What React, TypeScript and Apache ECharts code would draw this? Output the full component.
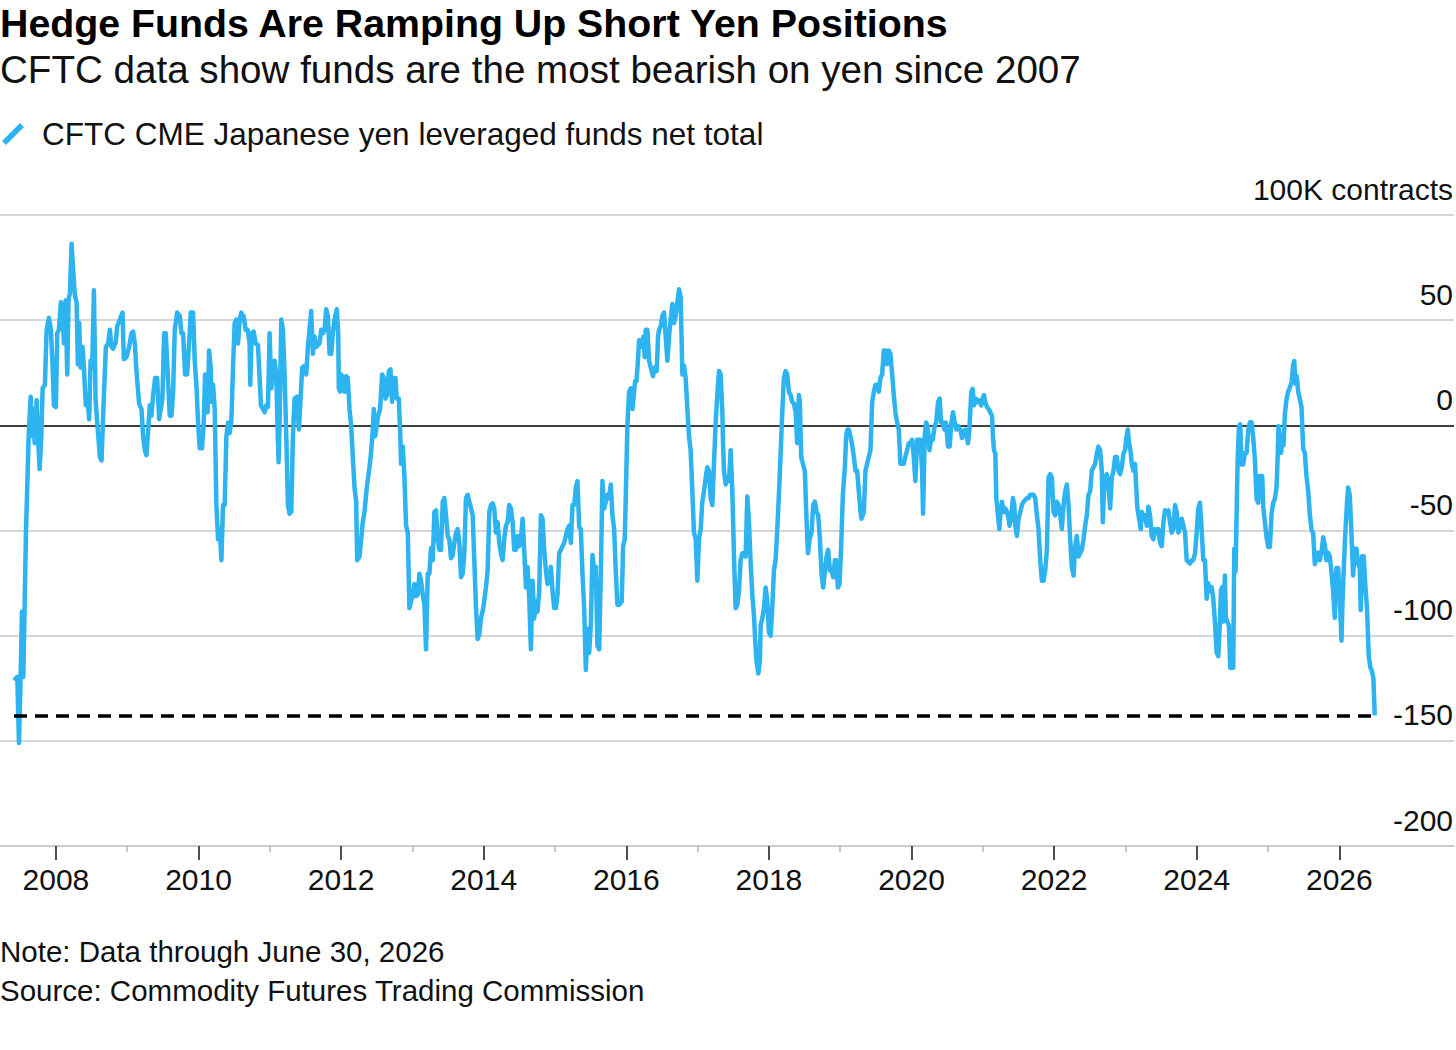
import React, { useEffect, useRef } from 'react';
import * as echarts from 'echarts';

const FONT = '"Liberation Sans", Arial, Helvetica, sans-serif';
const LINE_BLUE = '#2db3ef';

const TITLE = 'Hedge Funds Are Ramping Up Short Yen Positions';
const SUBTITLE = 'CFTC data show funds are the most bearish on yen since 2007';
const SERIES_NAME = 'CFTC CME Japanese yen leveraged funds net total';
const NOTE = 'Note: Data through June 30, 2026';
const SOURCE = 'Source: Commodity Futures Trading Commission';
const UNIT = 'K contracts';

// Axis ranges
const Y_MIN = -200;
const Y_MAX = 100;
const Y_STEP = 50;
const X_MIN = 2007.216;
const X_MAX = 2027.608;
const LABELLED_YEARS = [2008, 2010, 2012, 2014, 2016, 2018, 2020, 2022, 2024, 2026];
const MINOR_YEARS = [2009, 2011, 2013, 2015, 2017, 2019, 2021, 2023, 2025];

// Net positions, thousands of contracts, [decimal year, value]
const net2007to2010: [number, number][] = [
  [2007.412, -121.2], [2007.459, -119.6], [2007.482, -151.0], [2007.505, -119.6], [2007.524, -88.6],
  [2007.543, -119.6], [2007.58, -51.0], [2007.618, -5.2], [2007.646, 13.6], [2007.669, -5.2],
  [2007.683, 7.8], [2007.702, -8.5], [2007.73, 11.9], [2007.748, -5.2], [2007.772, -20.8],
  [2007.795, -5.2], [2007.814, 17.6], [2007.846, 19.3], [2007.87, 45.4], [2007.902, 51.1],
  [2007.93, 45.4], [2007.954, 27.5], [2007.972, 9.5], [2008.0, 8.7], [2008.019, 43.8],
  [2008.042, 45.4], [2008.07, 58.5], [2008.094, 52.0], [2008.112, 38.9], [2008.136, 59.3],
  [2008.159, 24.2], [2008.178, 60.1], [2008.196, 62.6], [2008.22, 86.3], [2008.243, 73.2],
  [2008.266, 61.8], [2008.29, 58.5], [2008.308, 29.1], [2008.327, 48.7], [2008.346, 27.5],
  [2008.374, 37.3], [2008.392, 27.5], [2008.42, 9.5], [2008.439, 14.4], [2008.467, 2.9],
  [2008.486, 30.7], [2008.509, 27.5], [2008.533, 64.2], [2008.556, 12.7], [2008.579, 1.3],
  [2008.617, -15.0], [2008.64, -16.7], [2008.673, 14.4], [2008.701, 37.3], [2008.733, 38.9],
  [2008.757, 45.4], [2008.78, 37.3], [2008.803, 36.4], [2008.841, 39.7], [2008.859, 47.1],
  [2008.897, 50.3], [2008.934, 53.6], [2008.953, 31.5], [2008.99, 32.4], [2009.027, 37.3],
  [2009.06, 43.8], [2009.083, 44.6], [2009.107, 38.9], [2009.13, 25.8], [2009.167, 10.3],
  [2009.2, 7.8], [2009.223, -5.2], [2009.247, -11.8], [2009.27, -14.2], [2009.298, -0.3],
  [2009.317, 9.5], [2009.34, 4.6], [2009.364, 14.4], [2009.392, 22.5], [2009.42, 22.5],
  [2009.448, 2.9], [2009.471, 7.8], [2009.494, 12.7], [2009.518, 43.8], [2009.541, 43.8],
  [2009.574, 20.9], [2009.597, 4.6], [2009.62, 4.6], [2009.644, 16.0], [2009.667, 45.4],
  [2009.7, 53.6], [2009.737, 52.0], [2009.76, 43.8], [2009.784, 43.8], [2009.812, 24.2],
  [2009.84, 24.2], [2009.868, 38.9], [2009.891, 53.6], [2009.924, 53.6], [2009.947, 30.7],
  [2009.97, 19.3], [2009.994, 1.3], [2010.017, -10.9], [2010.05, -10.9], [2010.073, 1.3],
  [2010.092, 24.2], [2010.111, 19.3], [2010.129, 6.2], [2010.148, 35.6], [2010.171, 27.5],
  [2010.185, 11.1], [2010.204, 19.3], [2010.227, 7.8], [2010.251, -37.9], [2010.274, -54.2],
  [2010.297, -49.3], [2010.321, -64.1], [2010.344, -37.9], [2010.367, -37.9], [2010.391, -5.2],
  [2010.414, 1.3], [2010.437, -3.6], [2010.461, 2.1], [2010.484, 27.5], [2010.507, 48.7],
  [2010.531, 50.3], [2010.554, 38.9], [2010.577, 50.3], [2010.601, 53.6], [2010.624, 50.3],
];

const net2010to2013: [number, number][] = [
  [2010.633, 52.0], [2010.661, 45.4], [2010.689, 45.4], [2010.717, 38.9], [2010.726, 19.3],
  [2010.745, 43.8], [2010.773, 44.6], [2010.801, 38.9], [2010.834, 38.1], [2010.857, 22.5],
  [2010.876, 9.5], [2010.904, 7.8], [2010.927, 6.2], [2010.95, 9.5], [2010.974, 8.7],
  [2010.997, 43.8], [2011.021, 17.6], [2011.044, 27.5], [2011.067, 30.7], [2011.091, 24.2],
  [2011.105, 2.9], [2011.123, -17.5], [2011.137, 1.3], [2011.161, 50.3], [2011.184, 45.4],
  [2011.207, 24.2], [2011.231, -5.2], [2011.254, -37.9], [2011.277, -42.0], [2011.301, -41.2],
  [2011.324, -5.2], [2011.347, 12.7], [2011.38, 13.6], [2011.408, -2.0], [2011.431, 12.7],
  [2011.455, 27.5], [2011.487, 28.3], [2011.511, 24.2], [2011.534, 37.3], [2011.557, 45.4],
  [2011.581, 54.4], [2011.604, 34.0], [2011.627, 42.2], [2011.651, 37.3], [2011.697, 38.9],
  [2011.721, 45.4], [2011.744, 43.8], [2011.768, 45.4], [2011.791, 55.2], [2011.814, 52.0],
  [2011.838, 34.0], [2011.861, 34.0], [2011.884, 43.8], [2011.908, 50.3], [2011.94, 55.2],
  [2011.959, 43.8], [2011.968, 17.6], [2011.987, 16.0], [2012.001, 24.2], [2012.024, 22.5],
  [2012.048, 16.0], [2012.071, 23.4], [2012.094, 22.5], [2012.118, 7.8], [2012.141, -0.3],
  [2012.164, -15.0], [2012.188, -29.7], [2012.211, -36.3], [2012.225, -64.1], [2012.258, -62.4],
  [2012.281, -54.2], [2012.304, -46.1], [2012.328, -41.2], [2012.36, -29.7], [2012.398, -19.9],
  [2012.421, -12.6], [2012.444, -2.0], [2012.458, 7.8], [2012.477, -5.2], [2012.5, -0.3],
  [2012.519, 4.6], [2012.547, 7.8], [2012.575, 24.2], [2012.599, 22.5], [2012.622, 12.7],
  [2012.645, 14.4], [2012.669, 25.8], [2012.692, 26.6], [2012.715, 11.1], [2012.734, 22.5],
  [2012.762, 22.5], [2012.781, 12.7], [2012.809, 12.7], [2012.827, -2.0], [2012.841, -18.3],
  [2012.865, -10.1], [2012.888, -24.8], [2012.911, -47.7], [2012.935, -51.0], [2012.958, -86.9],
  [2012.981, -83.7], [2013.005, -80.4], [2013.028, -75.5], [2013.051, -81.2], [2013.075, -80.4],
  [2013.098, -70.6], [2013.121, -73.9], [2013.145, -80.4], [2013.168, -85.3], [2013.191, -106.5],
  [2013.215, -70.6], [2013.238, -70.6], [2013.261, -58.3], [2013.285, -64.1], [2013.308, -41.2],
  [2013.331, -40.4], [2013.355, -54.2], [2013.378, -59.2], [2013.401, -59.2], [2013.425, -36.3],
  [2013.448, -34.6], [2013.471, -42.8], [2013.495, -52.6], [2013.518, -54.2], [2013.541, -63.2],
  [2013.565, -61.6], [2013.588, -55.9], [2013.611, -51.0], [2013.635, -49.3], [2013.658, -55.9],
  [2013.681, -72.2], [2013.705, -70.6], [2013.728, -60.8], [2013.751, -34.6], [2013.775, -33.0],
  [2013.798, -36.3], [2013.822, -39.5], [2013.845, -42.8], [2013.868, -64.1], [2013.892, -86.9],
  [2013.915, -101.6], [2013.938, -99.2],
];

const net2014to2017: [number, number][] = [
  [2013.961, -91.8], [2013.994, -86.9], [2014.031, -77.1], [2014.055, -69.0], [2014.078, -41.2],
  [2014.101, -37.9], [2014.125, -37.1], [2014.148, -39.5], [2014.171, -51.0], [2014.195, -46.1],
  [2014.218, -55.9], [2014.241, -60.8], [2014.265, -64.1], [2014.288, -54.2], [2014.311, -47.7],
  [2014.335, -46.1], [2014.358, -37.9], [2014.382, -39.5], [2014.405, -46.1], [2014.428, -59.2],
  [2014.452, -59.2], [2014.475, -52.6], [2014.498, -57.5], [2014.522, -54.2], [2014.545, -44.4],
  [2014.568, -59.2], [2014.592, -77.1], [2014.615, -67.3], [2014.638, -82.0], [2014.662, -106.5],
  [2014.685, -73.9], [2014.708, -91.8], [2014.732, -83.7], [2014.755, -88.6], [2014.778, -78.8],
  [2014.802, -42.8], [2014.825, -44.4], [2014.848, -59.2], [2014.872, -69.0], [2014.895, -75.5],
  [2014.918, -73.9], [2014.942, -67.3], [2014.965, -78.8], [2014.988, -86.9], [2015.012, -86.9],
  [2015.035, -80.4], [2015.058, -60.8], [2015.082, -59.2], [2015.105, -57.5], [2015.128, -55.9],
  [2015.152, -52.6], [2015.175, -49.3], [2015.199, -47.7], [2015.222, -55.9], [2015.245, -37.9],
  [2015.269, -37.9], [2015.292, -29.7], [2015.315, -26.5], [2015.339, -48.5], [2015.362, -49.3],
  [2015.385, -70.6], [2015.409, -86.9], [2015.432, -116.3], [2015.455, -96.7], [2015.479, -108.2],
  [2015.502, -95.1], [2015.525, -61.6], [2015.549, -69.0], [2015.572, -67.3], [2015.595, -104.9],
  [2015.619, -106.5], [2015.642, -70.6], [2015.665, -26.5], [2015.689, -39.5], [2015.712, -36.3],
  [2015.735, -33.0], [2015.759, -34.6], [2015.782, -28.1], [2015.805, -42.8], [2015.829, -49.3],
  [2015.852, -69.0], [2015.875, -85.3], [2015.899, -85.3], [2015.936, -83.7], [2015.955, -57.5],
  [2015.978, -54.2], [2015.992, -34.6], [2016.015, -0.3], [2016.039, 16.0], [2016.062, 17.6],
  [2016.086, 7.8], [2016.109, 16.0], [2016.123, 20.9], [2016.142, 20.9], [2016.16, 29.1],
  [2016.179, 40.5], [2016.202, 40.5], [2016.226, 37.3], [2016.24, 42.2], [2016.258, 32.4],
  [2016.272, 45.4], [2016.296, 45.4], [2016.319, 30.7], [2016.342, 27.5], [2016.375, 23.4],
  [2016.398, 27.5], [2016.426, 25.8], [2016.445, 42.2], [2016.459, 45.4], [2016.482, 47.1],
  [2016.506, 52.0], [2016.529, 53.6], [2016.552, 42.2], [2016.576, 30.7], [2016.599, 42.2],
  [2016.622, 50.3], [2016.646, 57.7], [2016.669, 48.7], [2016.692, 52.0], [2016.716, 58.5],
  [2016.739, 64.7], [2016.762, 60.9], [2016.786, 24.2], [2016.809, 28.3], [2016.832, 22.5],
  [2016.856, 7.8], [2016.879, -5.2], [2016.902, -11.8], [2016.926, -31.4], [2016.949, -51.0],
  [2016.973, -54.2], [2016.996, -73.9], [2017.019, -54.2], [2017.043, -49.3], [2017.066, -36.3],
  [2017.089, -31.4], [2017.113, -24.8], [2017.136, -19.9], [2017.159, -21.6], [2017.183, -34.6],
  [2017.206, -37.9], [2017.229, -18.3], [2017.253, 1.3], [2017.276, 14.4], [2017.3, 25.8],
];

const net2017to2020: [number, number][] = [
  [2017.323, 24.2], [2017.347, 6.2], [2017.356, -8.5], [2017.37, -21.6], [2017.393, -28.1],
  [2017.417, -24.8], [2017.44, -26.5], [2017.463, -11.8], [2017.487, -31.4], [2017.51, -62.4],
  [2017.533, -86.9], [2017.557, -85.3], [2017.58, -78.8], [2017.603, -64.1], [2017.627, -60.8],
  [2017.65, -60.8], [2017.673, -62.4], [2017.697, -33.8], [2017.72, -46.1], [2017.744, -65.7],
  [2017.767, -80.4], [2017.79, -90.2], [2017.804, -100.0], [2017.823, -111.4], [2017.851, -118.0],
  [2017.874, -111.4], [2017.884, -95.1], [2017.907, -91.8], [2017.93, -86.9], [2017.954, -77.1],
  [2017.977, -83.7], [2018.0, -98.4], [2018.024, -100.0], [2018.047, -86.9], [2018.07, -69.0],
  [2018.094, -64.1], [2018.117, -49.3], [2018.14, -33.0], [2018.164, -13.4], [2018.187, 6.2],
  [2018.21, 22.5], [2018.234, 25.8], [2018.257, 24.2], [2018.28, 16.0], [2018.304, 14.4],
  [2018.327, 11.1], [2018.35, 10.3], [2018.374, 6.2], [2018.397, -8.5], [2018.42, 14.4],
  [2018.434, 11.1], [2018.453, -15.0], [2018.476, -18.3], [2018.504, -21.6], [2018.523, -41.2],
  [2018.547, -60.8], [2018.57, -54.2], [2018.598, -51.0], [2018.621, -37.9], [2018.645, -36.3],
  [2018.668, -41.2], [2018.691, -42.8], [2018.715, -54.2], [2018.738, -70.6], [2018.761, -77.1],
  [2018.785, -69.0], [2018.808, -62.4], [2018.831, -59.2], [2018.855, -69.0], [2018.878, -69.0],
  [2018.901, -72.2], [2018.925, -64.1], [2018.943, -64.1], [2018.967, -77.1], [2018.99, -75.5],
  [2019.013, -57.5], [2019.037, -33.0], [2019.065, -19.9], [2019.083, -5.2], [2019.102, -2.0],
  [2019.121, -2.0], [2019.144, -5.2], [2019.167, -9.3], [2019.191, -15.0], [2019.214, -21.6],
  [2019.237, -21.6], [2019.261, -31.4], [2019.284, -41.2], [2019.298, -44.4], [2019.331, -41.2],
  [2019.354, -21.6], [2019.377, -18.3], [2019.401, -15.0], [2019.424, -11.8], [2019.448, 11.1],
  [2019.471, 16.0], [2019.494, 19.3], [2019.518, 19.3], [2019.541, 16.0], [2019.564, 22.5],
  [2019.588, 24.2], [2019.611, 35.6], [2019.634, 35.6], [2019.658, 29.1], [2019.681, 35.6],
  [2019.704, 34.0], [2019.728, 24.2], [2019.751, 14.4], [2019.774, 6.2], [2019.798, 1.3],
  [2019.821, -2.0], [2019.844, -18.3], [2019.868, -18.3], [2019.891, -18.3], [2019.914, -15.0],
  [2019.938, -11.8], [2019.961, -8.5], [2019.984, -8.5], [2020.008, -6.9], [2020.031, -15.0],
  [2020.054, -26.5], [2020.078, -6.9], [2020.101, -6.9], [2020.124, -6.9], [2020.148, -21.6],
  [2020.162, -42.0], [2020.185, -5.2], [2020.204, 1.3], [2020.227, -0.3], [2020.251, -11.8],
  [2020.279, -5.2], [2020.297, -6.9], [2020.325, -0.3], [2020.344, 1.3], [2020.372, 11.1],
  [2020.395, 12.7], [2020.414, 1.3], [2020.437, 1.3], [2020.461, -2.0], [2020.484, 1.3],
  [2020.512, -10.1], [2020.535, -10.1], [2020.559, 1.3], [2020.582, 6.2], [2020.605, 1.3],
  [2020.629, -2.0], [2020.652, -0.3],
];

const net2020to2024: [number, number][] = [
  [2020.684, -2.0], [2020.708, -6.0], [2020.731, -3.6], [2020.754, -2.0], [2020.778, -6.0],
  [2020.792, -8.5], [2020.81, -2.8], [2020.838, 16.0], [2020.857, 17.3], [2020.876, 9.5],
  [2020.904, 12.7], [2020.932, 11.1], [2020.95, 11.9], [2020.978, 9.5], [2020.997, 12.7],
  [2021.016, 14.4], [2021.034, 11.1], [2021.058, 8.7], [2021.081, 7.8], [2021.104, 6.2],
  [2021.128, 4.6], [2021.142, -5.2], [2021.156, -11.8], [2021.175, -13.4], [2021.189, -34.6],
  [2021.212, -42.8], [2021.231, -49.3], [2021.249, -41.2], [2021.268, -36.3], [2021.291, -41.2],
  [2021.315, -39.5], [2021.338, -41.2], [2021.361, -44.4], [2021.375, -47.7], [2021.394, -44.4],
  [2021.422, -34.6], [2021.441, -37.9], [2021.455, -47.7], [2021.478, -52.6], [2021.501, -44.4],
  [2021.525, -41.2], [2021.548, -37.9], [2021.571, -36.3], [2021.595, -35.5], [2021.618, -34.6],
  [2021.641, -34.6], [2021.665, -33.0], [2021.688, -33.0], [2021.711, -33.0], [2021.735, -34.6],
  [2021.758, -42.8], [2021.781, -49.3], [2021.805, -64.1], [2021.828, -73.9], [2021.852, -73.9],
  [2021.875, -69.0], [2021.898, -59.2], [2021.922, -24.8], [2021.945, -23.2], [2021.968, -24.8],
  [2021.992, -41.2], [2022.015, -42.8], [2022.038, -36.3], [2022.062, -37.9], [2022.085, -42.8],
  [2022.108, -49.3], [2022.132, -37.9], [2022.155, -31.4], [2022.178, -28.1], [2022.202, -37.9],
  [2022.225, -54.2], [2022.248, -67.3], [2022.272, -71.4], [2022.295, -57.5], [2022.318, -52.6],
  [2022.342, -62.4], [2022.365, -60.8], [2022.388, -59.2], [2022.412, -54.2], [2022.435, -47.7],
  [2022.458, -42.8], [2022.482, -33.0], [2022.505, -31.4], [2022.528, -21.6], [2022.552, -19.9],
  [2022.575, -18.3], [2022.598, -13.4], [2022.622, -10.1], [2022.645, -11.8], [2022.668, -21.6],
  [2022.683, -46.1], [2022.697, -33.0], [2022.715, -24.8], [2022.739, -23.2], [2022.762, -28.1],
  [2022.785, -39.5], [2022.809, -24.8], [2022.832, -21.6], [2022.855, -15.0], [2022.879, -15.0],
  [2022.902, -21.6], [2022.925, -23.2], [2022.949, -19.9], [2022.972, -13.4], [2022.995, -11.8],
  [2023.009, -6.9], [2023.033, -2.0], [2023.051, -8.5], [2023.07, -11.8], [2023.089, -18.3],
  [2023.112, -21.6], [2023.135, -18.3], [2023.149, -28.1], [2023.168, -39.5], [2023.191, -44.4],
  [2023.215, -49.3], [2023.229, -41.2], [2023.252, -44.4], [2023.275, -42.8], [2023.299, -47.7],
  [2023.322, -38.7], [2023.345, -42.8], [2023.369, -52.6], [2023.392, -54.2], [2023.415, -49.3],
  [2023.439, -51.0], [2023.462, -49.3], [2023.485, -55.9], [2023.509, -57.5], [2023.532, -46.1],
  [2023.555, -40.4], [2023.579, -41.2], [2023.602, -40.4], [2023.625, -46.1], [2023.649, -51.0],
  [2023.672, -49.3], [2023.696, -37.9], [2023.719, -41.2], [2023.742, -51.0], [2023.766, -47.7],
  [2023.789, -44.4], [2023.812, -47.7], [2023.836, -51.0], [2023.859, -64.1], [2023.882, -64.9],
  [2023.906, -65.7], [2023.929, -64.1], [2023.952, -64.1], [2023.976, -60.8], [2023.999, -51.0],
  [2024.022, -39.5],
];

const net2024to2026: [number, number][] = [
  [2024.045, -36.8], [2024.069, -49.6], [2024.092, -64.1], [2024.115, -64.1], [2024.139, -82.4],
  [2024.162, -75.1], [2024.185, -78.7], [2024.209, -76.9], [2024.232, -82.4], [2024.255, -93.3],
  [2024.279, -107.9], [2024.302, -109.7], [2024.325, -93.3], [2024.339, -78.7], [2024.358, -76.9],
  [2024.372, -93.3], [2024.395, -71.4], [2024.409, -91.5], [2024.428, -93.3], [2024.451, -95.1],
  [2024.47, -115.2], [2024.489, -115.2], [2024.512, -115.2], [2024.526, -58.7], [2024.545, -69.6],
  [2024.559, -42.3], [2024.573, -16.8], [2024.592, -0.4], [2024.61, 0.5], [2024.629, -18.6],
  [2024.652, -18.6], [2024.676, -13.1], [2024.699, -13.1], [2024.722, -2.2], [2024.746, 1.5],
  [2024.769, 1.5], [2024.792, -5.8], [2024.816, -16.8], [2024.839, -35.0], [2024.862, -36.8],
  [2024.876, -24.1], [2024.895, -24.1], [2024.918, -24.1], [2024.932, -38.6], [2024.956, -45.9],
  [2024.979, -53.2], [2025.002, -57.8], [2025.026, -57.8], [2025.049, -42.3], [2025.072, -36.8],
  [2025.096, -35.0], [2025.119, -29.5], [2025.133, -16.8], [2025.147, -0.4], [2025.166, -5.8],
  [2025.184, -13.1], [2025.198, -5.8], [2025.217, -9.5], [2025.236, 5.1], [2025.259, 12.4],
  [2025.282, 16.0], [2025.306, 17.9], [2025.329, 20.6], [2025.353, 28.8], [2025.367, 30.6],
  [2025.385, 19.7], [2025.404, 23.3], [2025.423, 16.0], [2025.446, 12.4], [2025.469, 8.7],
  [2025.493, -11.3], [2025.516, -13.1], [2025.539, -24.1], [2025.563, -31.3], [2025.586, -42.3],
  [2025.609, -49.6], [2025.633, -51.4], [2025.656, -66.0], [2025.679, -62.3], [2025.703, -60.5],
  [2025.726, -64.1], [2025.749, -60.5], [2025.773, -53.2], [2025.796, -56.9], [2025.819, -64.1],
  [2025.843, -60.5], [2025.866, -62.3], [2025.889, -69.6], [2025.913, -78.7], [2025.936, -91.5],
  [2025.959, -67.8], [2025.983, -67.8], [2026.006, -82.4], [2026.03, -102.4], [2026.044, -84.2],
  [2026.062, -67.8], [2026.081, -53.2], [2026.104, -38.6], [2026.123, -29.5], [2026.146, -33.2],
  [2026.17, -51.4], [2026.193, -71.4], [2026.216, -58.7], [2026.24, -58.7], [2026.263, -66.0],
  [2026.286, -67.8], [2026.3, -87.8], [2026.319, -62.3], [2026.342, -62.3], [2026.366, -76.9],
  [2026.389, -87.8], [2026.412, -109.7], [2026.436, -115.2], [2026.459, -117.0], [2026.478, -120.6],
  [2026.496, -137.9],
];

const netPositions: [number, number][] = [
  ...net2007to2010,
  ...net2010to2013,
  ...net2014to2017,
  ...net2017to2020,
  ...net2020to2024,
  ...net2024to2026,
];

export default function App() {
  const ref = useRef<HTMLDivElement>(null);

  useEffect(() => {
    if (!ref.current) return;
    const chart = echarts.init(ref.current, undefined, { renderer: 'svg' });

    const first = netPositions[0];
    const last = netPositions[netPositions.length - 1];

    // one colour per horizontal rule, from the bottom; the zero rule is black
    const ruleColors: string[] = [];
    for (let v = Y_MIN; v <= Y_MAX; v += Y_STEP) ruleColors.push(v === 0 ? '#000000' : '#c9c9c9');

    const baseX = {
      type: 'value',
      min: X_MIN,
      max: X_MAX,
      position: 'bottom',
      offset: 0,
      splitLine: { show: false },
    };

    const option: any = {
      animation: false,
      backgroundColor: '#ffffff',
      textStyle: { fontFamily: FONT },
      title: [
        {
          text: TITLE, left: 0, top: 3, padding: 0,
          textStyle: { fontFamily: FONT, fontSize: 39.3, fontWeight: 'bold', color: '#000' },
        },
        {
          text: SUBTITLE, left: 0, top: 50, padding: 0,
          textStyle: { fontFamily: FONT, fontSize: 38.6, fontWeight: 'normal', color: '#111' },
        },
        {
          text: NOTE, left: 0, top: 936, padding: 0,
          textStyle: { fontFamily: FONT, fontSize: 29.5, fontWeight: 'normal', color: '#111' },
        },
        {
          text: SOURCE, left: 0, top: 975, padding: 0,
          textStyle: { fontFamily: FONT, fontSize: 29.5, fontWeight: 'normal', color: '#111' },
        },
      ],
      legend: {
        left: 2, top: 118, padding: 0,
        itemWidth: 22, itemHeight: 22,
        icon: 'path://M0,18 L18,0 L22,4 L4,22 Z',
        data: [SERIES_NAME],
        textStyle: { fontFamily: FONT, fontSize: 31.5, color: '#111', padding: [0, 0, 0, 13] },
      },
      grid: { left: 0, right: 0, top: 215, bottom: 204, containLabel: false },
      xAxis: [
        {
          ...baseX,
          axisLine: { show: true, onZero: false, lineStyle: { color: '#c9c9c9', width: 1.6 } },
          axisTick: { show: true, length: 14, customValues: LABELLED_YEARS, lineStyle: { color: '#222', width: 1.6 } },
          axisLabel: {
            customValues: LABELLED_YEARS,
            margin: 18, fontFamily: FONT, fontSize: 30, color: '#111',
            formatter: (v: number) => String(v),
          },
        },
        {
          ...baseX,
          axisLine: { show: false, onZero: false },
          axisTick: { show: true, length: 6, customValues: MINOR_YEARS, lineStyle: { color: '#b8b8b8', width: 1.6 } },
          axisLabel: { show: false },
        },
      ],
      yAxis: {
        type: 'value', position: 'right',
        min: Y_MIN, max: Y_MAX, interval: Y_STEP,
        axisLine: { show: false },
        axisTick: { show: false },
        splitLine: { show: true, lineStyle: { color: ruleColors, width: 1.6 } },
        axisLabel: {
          inside: true, align: 'right', verticalAlign: 'bottom', margin: 1,
          padding: [0, 0, 11, 0],
          fontFamily: FONT, fontSize: 30, color: '#111',
          formatter: (v: number) => (v === Y_MAX ? `${v}${UNIT}` : String(v)),
        },
      },
      series: [
        {
          name: SERIES_NAME,
          type: 'line',
          xAxisIndex: 0,
          data: netPositions,
          showSymbol: false,
          symbol: 'none',
          color: LINE_BLUE,
          lineStyle: { color: LINE_BLUE, width: 4.5, join: 'round' },
          markLine: {
            silent: true,
            symbol: ['none', 'none'],
            label: { show: false },
            lineStyle: { color: '#000', width: 3.5, type: [13, 8] },
            data: [[{ coord: [first[0], last[1]] }, { coord: [last[0], last[1]] }]],
          },
        },
      ],
    };

    chart.setOption(option);
    return () => chart.dispose();
  }, []);

  return (
    <div
      ref={ref}
      style={{ position: 'absolute', left: 0, top: 0, width: 1456, height: 1050, background: '#fff' }}
    />
  );
}
